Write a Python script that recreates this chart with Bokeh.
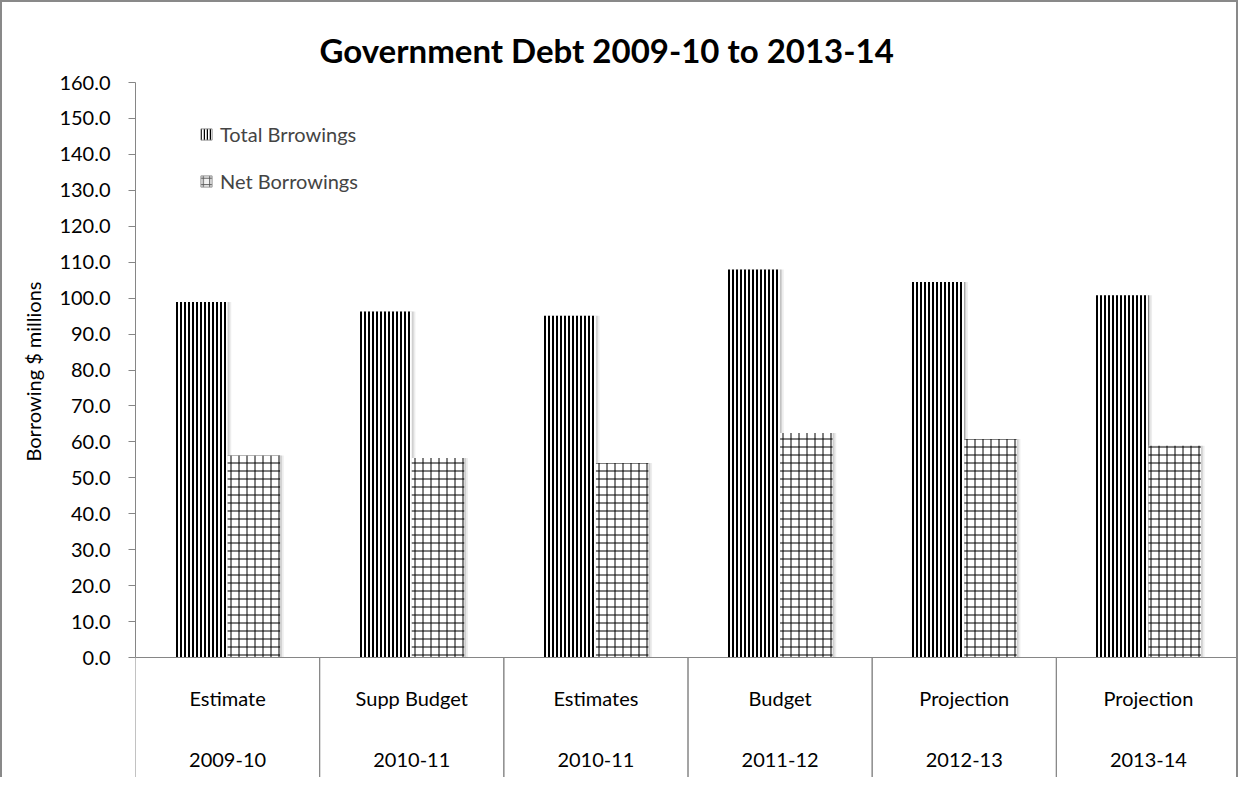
from bokeh.plotting import figure
from bokeh.models import (FactorRange, Range1d, FixedTicker, PrintfTickFormatter,
                          Span, Legend, LegendItem, ColumnDataSource, Title)
from bokeh.transform import dodge
from bokeh.core.properties import value
from bokeh.embed import file_html
from bokeh.resources import INLINE

# ---------------- data ----------------
years = ["2009-10", "2010-11", "2010-11", "2011-12", "2012-13", "2013-14"]
stages = ["Estimate", "Supp Budget", "Estimates", "Budget", "Projection", "Projection"]
total_borrowings = [98.9, 96.3, 95.1, 108.0, 104.5, 100.8]
net_borrowings = [56.2, 55.5, 54.1, 62.5, 60.8, 58.9]
y_ticks = [0, 10, 20, 30, 40, 50, 60, 70, 80, 90, 100, 110, 120, 130, 140, 150, 160]
series_names = ["Total Brrowings", "Net Borrowings"]
title_text = "Government Debt 2009-10 to 2013-14"
y_axis_title = "Borrowing $ millions"

# ---------------- layout constants ----------------
W, H = 1238, 777
FRAME_LEFT, FRAME_RIGHT, FRAME_TOP = 133, 0, 80
BASELINE = 655          # canvas y of value 0
YMAX = y_ticks[-1]
YMIN = -YMAX * (H - BASELINE) / (BASELINE - FRAME_TOP)
FONT = "Lato"
GREY = "#868686"
BORDER = "2px solid #898989"
BW = 0.285

keys = [f"{s} {y}" for s, y in zip(stages, years)]
src = ColumnDataSource(dict(key=keys, stage=stages, year=years,
                            total=total_borrowings, net=net_borrowings))

p = figure(width=W, height=H, output_backend="svg", toolbar_location=None,
           x_range=FactorRange(factors=keys, range_padding=0),
           y_range=Range1d(YMIN, YMAX), x_axis_location=None,
           min_border_left=FRAME_LEFT, min_border_right=FRAME_RIGHT,
           min_border_top=FRAME_TOP, min_border_bottom=0)
p.styles = {"border-left": BORDER, "border-top": BORDER, "border-right": BORDER}
p.outline_line_color = None
p.xgrid.visible = False
p.ygrid.visible = False
p.background_fill_color = "white"
p.border_fill_color = "white"

p.add_layout(Title(text=title_text, align="left", offset=184, standoff=26,
                   text_font=FONT, text_font_style="bold", text_font_size="33px",
                   text_color="black"), "above")

ax = p.yaxis[0]
ax.ticker = FixedTicker(ticks=y_ticks)
ax.formatter = PrintfTickFormatter(format="%.1f")
ax.bounds = (y_ticks[0], y_ticks[-1])
ax.axis_line_color = GREY
ax.major_tick_line_color = GREY
ax.major_tick_out = 7
ax.major_tick_in = 0
ax.minor_tick_line_color = None
ax.major_label_text_font = FONT
ax.major_label_text_font_size = "20px"
ax.major_label_text_color = "black"
ax.major_label_standoff = 18

# y-axis title, centred on the 0..160 part of the axis (not on the extended frame)
p.add_layout(Title(text=y_axis_title, align="left", offset=318, standoff=24,
                   text_font=FONT, text_font_style="normal", text_font_size="20px",
                   text_color="black"), "left")

# baseline
p.add_layout(Span(location=0, dimension="width", line_color=GREY, line_width=1))

# shadows
for dx, a in [(0.010, 0.12), (0.020, 0.07)]:
    p.vbar(x=dodge("key", -BW / 2 + dx, range=p.x_range), top="total", width=BW,
           source=src, fill_color="black", fill_alpha=a, line_color=None)
    p.vbar(x=dodge("key", BW / 2 + dx, range=p.x_range), top="net", width=BW,
           source=src, fill_color="black", fill_alpha=a, line_color=None)

p.vbar(x=dodge("key", -BW / 2, range=p.x_range), top="total", width=BW,
       source=src, fill_color="white", line_color=None,
       hatch_pattern="|", hatch_scale=4, hatch_weight=2, hatch_color="black")
p.vbar(x=dodge("key", BW / 2, range=p.x_range), top="net", width=BW,
       source=src, fill_color="white", line_color=None,
       hatch_pattern="+", hatch_scale=8, hatch_weight=1, hatch_color="black")

# legend-only swatches: zero-height bars (invisible) that carry the key styling
key_src = ColumnDataSource(dict(x=keys[:1], top=[0]))
lg_total = p.vbar(x="x", top="top", bottom="top", width=0.001, source=key_src,
                  fill_color="white", line_color="#8a8a8a", line_width=1, line_alpha=0.9,
                  hatch_pattern="|", hatch_scale=3, hatch_weight=1.5, hatch_color="black")
lg_net = p.vbar(x="x", top="top", bottom="top", width=0.001, source=key_src,
                fill_color="#f2f2f2", line_color="#8a8a8a", line_width=1, line_alpha=0.9,
                hatch_pattern="+", hatch_scale=6.5, hatch_weight=1, hatch_color="#555555")

# category dividers below the axis
for off in (-0.5, 0.5):
    p.segment(x0=dodge("key", off, range=p.x_range), y0=0,
              x1=dodge("key", off, range=p.x_range), y1=YMIN,
              source=src, line_color=GREY, line_width=1)

# category labels (two rows)
p.text(x="key", y=0, text="stage", source=src, y_offset=40,
       text_align="center", text_baseline="middle",
       text_font=value(FONT), text_font_size="20px", text_color="black")
p.text(x="key", y=0, text="year", source=src, y_offset=102,
       text_align="center", text_baseline="middle",
       text_font=value(FONT), text_font_size="20px", text_color="black")

legend = Legend(items=[LegendItem(label=series_names[0], renderers=[lg_total]),
                       LegendItem(label=series_names[1], renderers=[lg_net])],
                location=(64, 586), padding=0, margin=0,
                border_line_color=None, background_fill_alpha=0,
                glyph_width=14, glyph_height=14, label_height=24, spacing=23,
                label_standoff=7, label_text_font=FONT, label_text_font_size="20px")
p.add_layout(legend)

open("out.html", "w").write(file_html(p, INLINE))
